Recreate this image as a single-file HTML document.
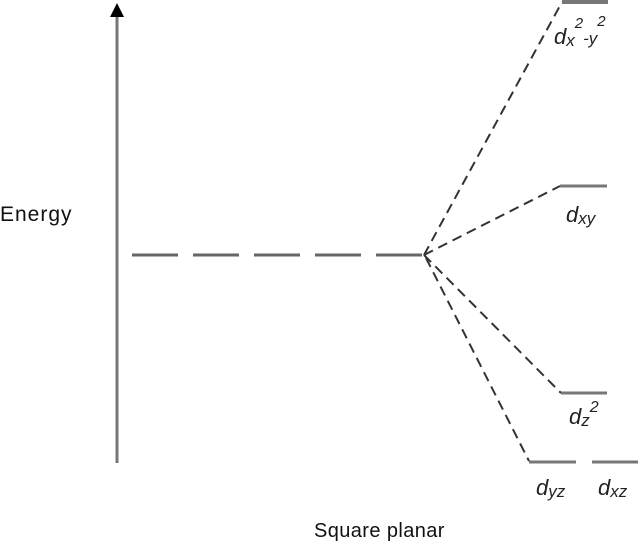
<!DOCTYPE html>
<html><head><style>body{margin:0;background:#fff}svg{display:block}</style></head><body>
<svg width="640" height="548" xmlns="http://www.w3.org/2000/svg" font-family="Liberation Sans, sans-serif">
<line x1="117" y1="16" x2="117" y2="463" stroke="#777" stroke-width="3"/>
<polygon points="117,3 110,17 124,17" fill="#000"/>
<text x="0" y="221" font-size="21" fill="#111" letter-spacing="1">Energy</text>
<text x="314" y="537" font-size="20" fill="#111" letter-spacing="0.4">Square planar</text>
<line x1="132" y1="255" x2="424" y2="255" stroke="#666" stroke-width="3" stroke-dasharray="46,15"/>
<g stroke="#333" stroke-width="2" stroke-dasharray="10,6" fill="none">
<line x1="424" y1="255" x2="562" y2="2"/>
<line x1="424" y1="255" x2="560" y2="186"/>
<line x1="424" y1="255" x2="561" y2="393"/>
<line x1="426" y1="258" x2="529" y2="461"/>
</g>
<g stroke="#777" stroke-width="3">
<line x1="562" y1="2" x2="608" y2="2" stroke-width="4"/>
<line x1="560" y1="186" x2="607" y2="186"/>
<line x1="561" y1="393" x2="607" y2="393"/>
<line x1="529" y1="462" x2="576" y2="462"/>
<line x1="592" y1="462" x2="638" y2="462"/>
</g>
<g font-style="italic" fill="#222">
<text x="554" y="44" font-size="22">d<tspan font-size="17" dy="2">x</tspan><tspan font-size="15" dy="-18">2</tspan><tspan font-size="17" dy="16">-y</tspan><tspan font-size="15" dy="-18">2</tspan></text>
<text x="566" y="222" font-size="22">d<tspan font-size="17" dy="2">xy</tspan></text>
<text x="569" y="424" font-size="22">d<tspan font-size="17" dy="2">z</tspan><tspan font-size="16" dy="-14">2</tspan></text>
<text x="536" y="495" font-size="22">d<tspan font-size="17" dy="2">yz</tspan></text>
<text x="598" y="495" font-size="22">d<tspan font-size="17" dy="2">xz</tspan></text>
</g>
</svg>
</body></html>
